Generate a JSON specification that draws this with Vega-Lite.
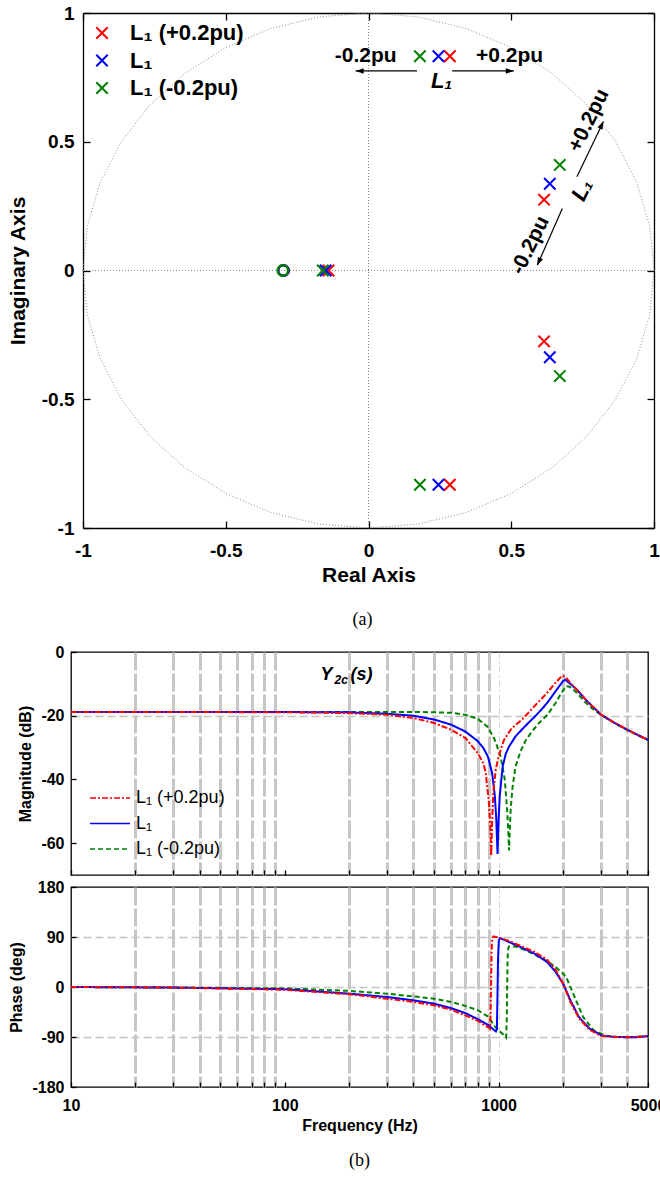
{
"$schema": "https://vega.github.io/schema/vega-lite/v6.json",
"padding": {"left": 7, "top": 4, "right": 0, "bottom": 0},
"background": "white",
"spacing": 14,
"resolve": {"scale": {"color": "independent", "strokeDash": "independent"}},
"config": {
  "font": "Liberation Sans",
  "view": {"stroke": "#000000", "strokeWidth": 1.3},
  "axis": {"domain": false, "grid": false, "tickColor": "#000000", "tickWidth": 1.3, "labelColor": "#000000", "titleColor": "#000000", "labelFont": "Liberation Sans", "titleFont": "Liberation Sans", "labelFontWeight": "bold", "titleFontWeight": "bold", "labelFlush": false, "labelOverlap": false},
  "title": {"font": "Liberation Serif", "fontWeight": "normal", "fontSize": 18, "color": "#000000"}
},
"datasets": {
  "circle": [
    {"k":0,"re":1,"im":0},{"k":1,"re":0.9848,"im":0.1736},{"k":2,"re":0.9397,"im":0.342},{"k":3,"re":0.866,"im":0.5},{"k":4,"re":0.766,"im":0.6428},{"k":5,"re":0.6428,"im":0.766},{"k":6,"re":0.5,"im":0.866},{"k":7,"re":0.342,"im":0.9397},{"k":8,"re":0.1736,"im":0.9848},{"k":9,"re":0,"im":1},
    {"k":10,"re":-0.1736,"im":0.9848},{"k":11,"re":-0.342,"im":0.9397},{"k":12,"re":-0.5,"im":0.866},{"k":13,"re":-0.6428,"im":0.766},{"k":14,"re":-0.766,"im":0.6428},{"k":15,"re":-0.866,"im":0.5},{"k":16,"re":-0.9397,"im":0.342},{"k":17,"re":-0.9848,"im":0.1736},{"k":18,"re":-1,"im":0},
    {"k":19,"re":-0.9848,"im":-0.1736},{"k":20,"re":-0.9397,"im":-0.342},{"k":21,"re":-0.866,"im":-0.5},{"k":22,"re":-0.766,"im":-0.6428},{"k":23,"re":-0.6428,"im":-0.766},{"k":24,"re":-0.5,"im":-0.866},{"k":25,"re":-0.342,"im":-0.9397},{"k":26,"re":-0.1736,"im":-0.9848},{"k":27,"re":0,"im":-1},
    {"k":28,"re":0.1736,"im":-0.9848},{"k":29,"re":0.342,"im":-0.9397},{"k":30,"re":0.5,"im":-0.866},{"k":31,"re":0.6428,"im":-0.766},{"k":32,"re":0.766,"im":-0.6428},{"k":33,"re":0.866,"im":-0.5},{"k":34,"re":0.9397,"im":-0.342},{"k":35,"re":0.9848,"im":-0.1736},{"k":36,"re":1,"im":0}
  ],
  "pz": [
    {"re":-0.14,"im":0,"s":"L₁ (+0.2pu)","type":"pole"},{"re":-0.15,"im":0,"s":"L₁","type":"pole"},{"re":-0.16,"im":0,"s":"L₁ (-0.2pu)","type":"pole"},
    {"re":0.285,"im":0.832,"s":"L₁ (+0.2pu)","type":"pole"},{"re":0.245,"im":0.832,"s":"L₁","type":"pole"},{"re":0.18,"im":0.832,"s":"L₁ (-0.2pu)","type":"pole"},
    {"re":0.285,"im":-0.832,"s":"L₁ (+0.2pu)","type":"pole"},{"re":0.245,"im":-0.832,"s":"L₁","type":"pole"},{"re":0.18,"im":-0.832,"s":"L₁ (-0.2pu)","type":"pole"},
    {"re":0.615,"im":0.275,"s":"L₁ (+0.2pu)","type":"pole"},{"re":0.635,"im":0.337,"s":"L₁","type":"pole"},{"re":0.67,"im":0.41,"s":"L₁ (-0.2pu)","type":"pole"},
    {"re":0.615,"im":-0.275,"s":"L₁ (+0.2pu)","type":"pole"},{"re":0.635,"im":-0.337,"s":"L₁","type":"pole"},{"re":0.67,"im":-0.41,"s":"L₁ (-0.2pu)","type":"pole"},
    {"re":-0.298,"im":0,"s":"L₁ (+0.2pu)","type":"zero"},{"re":-0.298,"im":0,"s":"L₁","type":"zero"},{"re":-0.3,"im":0,"s":"L₁ (-0.2pu)","type":"zero"}
  ],
  "ann": [
    {"re":-0.01,"im":0.832,"t":"-0.2pu","kind":"h"},
    {"re":0.494,"im":0.832,"t":"+0.2pu","kind":"h"},
    {"re":0.256,"im":0.734,"t":"L₁","kind":"hi"},
    {"re":0.772,"im":0.583,"t":"+0.2pu","kind":"r"},
    {"re":0.567,"im":0.098,"t":"-0.2pu","kind":"r"},
    {"re":0.748,"im":0.3125,"t":"L₁","kind":"ri"}
  ],
  "arr": [
    {"re":0.17,"im":0.775,"re2":-0.045,"im2":0.775,"dir":"l"},
    {"re":0.293,"im":0.775,"re2":0.509,"im2":0.775,"dir":"r"},
    {"re":0.73,"im":0.364,"re2":0.823,"im2":0.579,"dir":"u"},
    {"re":0.679,"im":0.241,"re2":0.591,"im2":0.02,"dir":"d"}
  ],
  "ttl": [{"f":147,"db":-7.2}],
  "mag": [
    {"f":10,"db":-18.8,"s":"L₁ (-0.2pu)"},{"f":100,"db":-18.8,"s":"L₁ (-0.2pu)"},{"f":200,"db":-18.8,"s":"L₁ (-0.2pu)"},{"f":300,"db":-18.8,"s":"L₁ (-0.2pu)"},{"f":400,"db":-18.85,"s":"L₁ (-0.2pu)"},{"f":500,"db":-18.9,"s":"L₁ (-0.2pu)"},{"f":600,"db":-19.1,"s":"L₁ (-0.2pu)"},{"f":700,"db":-19.7,"s":"L₁ (-0.2pu)"},{"f":800,"db":-21,"s":"L₁ (-0.2pu)"},{"f":890,"db":-23.5,"s":"L₁ (-0.2pu)"},{"f":955,"db":-27.2,"s":"L₁ (-0.2pu)"},{"f":1020,"db":-32.5,"s":"L₁ (-0.2pu)"},{"f":1069,"db":-40,"s":"L₁ (-0.2pu)"},{"f":1095,"db":-49,"s":"L₁ (-0.2pu)"},{"f":1110,"db":-56,"s":"L₁ (-0.2pu)"},{"f":1119,"db":-62.3,"s":"L₁ (-0.2pu)"},{"f":1128,"db":-56,"s":"L₁ (-0.2pu)"},{"f":1140,"db":-49,"s":"L₁ (-0.2pu)"},{"f":1160,"db":-43,"s":"L₁ (-0.2pu)"},{"f":1199,"db":-36,"s":"L₁ (-0.2pu)"},{"f":1270,"db":-31,"s":"L₁ (-0.2pu)"},{"f":1343,"db":-27.6,"s":"L₁ (-0.2pu)"},{"f":1450,"db":-24.5,"s":"L₁ (-0.2pu)"},{"f":1550,"db":-22.2,"s":"L₁ (-0.2pu)"},{"f":1687,"db":-19.8,"s":"L₁ (-0.2pu)"},{"f":1849,"db":-16,"s":"L₁ (-0.2pu)"},{"f":1950,"db":-13.3,"s":"L₁ (-0.2pu)"},{"f":2071,"db":-10.7,"s":"L₁ (-0.2pu)"},{"f":2150,"db":-10.9,"s":"L₁ (-0.2pu)"},{"f":2321,"db":-12.8,"s":"L₁ (-0.2pu)"},{"f":2500,"db":-15.3,"s":"L₁ (-0.2pu)"},{"f":2750,"db":-17.8,"s":"L₁ (-0.2pu)"},{"f":3022,"db":-19.8,"s":"L₁ (-0.2pu)"},{"f":3500,"db":-22.4,"s":"L₁ (-0.2pu)"},{"f":4000,"db":-24.5,"s":"L₁ (-0.2pu)"},{"f":4500,"db":-26.2,"s":"L₁ (-0.2pu)"},{"f":5000,"db":-27.6,"s":"L₁ (-0.2pu)"},
    {"f":10,"db":-18.8,"s":"L₁"},{"f":100,"db":-18.85,"s":"L₁"},{"f":200,"db":-18.95,"s":"L₁"},{"f":300,"db":-19.4,"s":"L₁"},{"f":400,"db":-20,"s":"L₁"},{"f":500,"db":-21.2,"s":"L₁"},{"f":600,"db":-22.8,"s":"L₁"},{"f":700,"db":-25,"s":"L₁"},{"f":800,"db":-28,"s":"L₁"},{"f":850,"db":-30.2,"s":"L₁"},{"f":891,"db":-32.8,"s":"L₁"},{"f":933,"db":-38,"s":"L₁"},{"f":960,"db":-45,"s":"L₁"},{"f":975,"db":-52,"s":"L₁"},{"f":989,"db":-63.4,"s":"L₁"},{"f":1000,"db":-53,"s":"L₁"},{"f":1013,"db":-45,"s":"L₁"},{"f":1045,"db":-36,"s":"L₁"},{"f":1080,"db":-32,"s":"L₁"},{"f":1119,"db":-29.7,"s":"L₁"},{"f":1200,"db":-26.5,"s":"L₁"},{"f":1283,"db":-24.4,"s":"L₁"},{"f":1400,"db":-21.8,"s":"L₁"},{"f":1472,"db":-20.4,"s":"L₁"},{"f":1600,"db":-17.8,"s":"L₁"},{"f":1687,"db":-16,"s":"L₁"},{"f":1800,"db":-13.4,"s":"L₁"},{"f":1900,"db":-11.2,"s":"L₁"},{"f":2000,"db":-9.2,"s":"L₁"},{"f":2050,"db":-8.7,"s":"L₁"},{"f":2150,"db":-9.8,"s":"L₁"},{"f":2321,"db":-11.8,"s":"L₁"},{"f":2600,"db":-15.5,"s":"L₁"},{"f":3022,"db":-19.7,"s":"L₁"},{"f":3500,"db":-22.3,"s":"L₁"},{"f":4000,"db":-24.4,"s":"L₁"},{"f":4500,"db":-26.1,"s":"L₁"},{"f":5000,"db":-27.6,"s":"L₁"},
    {"f":10,"db":-18.8,"s":"L₁ (+0.2pu)"},{"f":100,"db":-18.9,"s":"L₁ (+0.2pu)"},{"f":200,"db":-19.2,"s":"L₁ (+0.2pu)"},{"f":300,"db":-19.7,"s":"L₁ (+0.2pu)"},{"f":400,"db":-20.7,"s":"L₁ (+0.2pu)"},{"f":500,"db":-22.3,"s":"L₁ (+0.2pu)"},{"f":600,"db":-24.4,"s":"L₁ (+0.2pu)"},{"f":700,"db":-27,"s":"L₁ (+0.2pu)"},{"f":800,"db":-31.8,"s":"L₁ (+0.2pu)"},{"f":850,"db":-35,"s":"L₁ (+0.2pu)"},{"f":871,"db":-38,"s":"L₁ (+0.2pu)"},{"f":899,"db":-46.5,"s":"L₁ (+0.2pu)"},{"f":915,"db":-55,"s":"L₁ (+0.2pu)"},{"f":924,"db":-64,"s":"L₁ (+0.2pu)"},{"f":932,"db":-54,"s":"L₁ (+0.2pu)"},{"f":945,"db":-44,"s":"L₁ (+0.2pu)"},{"f":970,"db":-37,"s":"L₁ (+0.2pu)"},{"f":1000,"db":-32.8,"s":"L₁ (+0.2pu)"},{"f":1060,"db":-27.6,"s":"L₁ (+0.2pu)"},{"f":1150,"db":-24,"s":"L₁ (+0.2pu)"},{"f":1283,"db":-21.3,"s":"L₁ (+0.2pu)"},{"f":1472,"db":-17,"s":"L₁ (+0.2pu)"},{"f":1687,"db":-12.8,"s":"L₁ (+0.2pu)"},{"f":1850,"db":-9.6,"s":"L₁ (+0.2pu)"},{"f":1985,"db":-7.4,"s":"L₁ (+0.2pu)"},{"f":2050,"db":-7.8,"s":"L₁ (+0.2pu)"},{"f":2200,"db":-10.2,"s":"L₁ (+0.2pu)"},{"f":2321,"db":-11.8,"s":"L₁ (+0.2pu)"},{"f":2600,"db":-15.5,"s":"L₁ (+0.2pu)"},{"f":3022,"db":-19.7,"s":"L₁ (+0.2pu)"},{"f":3500,"db":-22.3,"s":"L₁ (+0.2pu)"},{"f":4000,"db":-24.4,"s":"L₁ (+0.2pu)"},{"f":4500,"db":-26.1,"s":"L₁ (+0.2pu)"},{"f":5000,"db":-27.6,"s":"L₁ (+0.2pu)"}
  ],
  "ph": [
    {"f":10,"deg":0,"s":"L₁ (-0.2pu)"},{"f":30,"deg":-0.8,"s":"L₁ (-0.2pu)"},{"f":100,"deg":-2.5,"s":"L₁ (-0.2pu)"},{"f":200,"deg":-7,"s":"L₁ (-0.2pu)"},{"f":300,"deg":-12,"s":"L₁ (-0.2pu)"},{"f":400,"deg":-17,"s":"L₁ (-0.2pu)"},{"f":500,"deg":-21,"s":"L₁ (-0.2pu)"},{"f":600,"deg":-27,"s":"L₁ (-0.2pu)"},{"f":700,"deg":-34,"s":"L₁ (-0.2pu)"},{"f":800,"deg":-42,"s":"L₁ (-0.2pu)"},{"f":900,"deg":-54,"s":"L₁ (-0.2pu)"},{"f":955,"deg":-70,"s":"L₁ (-0.2pu)"},{"f":1021,"deg":-81,"s":"L₁ (-0.2pu)"},{"f":1069,"deg":-88,"s":"L₁ (-0.2pu)"},{"f":1085,"deg":-91,"s":"L₁ (-0.2pu)"},{"f":1092,"deg":-60,"s":"L₁ (-0.2pu)"},{"f":1097,"deg":0,"s":"L₁ (-0.2pu)"},{"f":1103,"deg":55,"s":"L₁ (-0.2pu)"},{"f":1110,"deg":70,"s":"L₁ (-0.2pu)"},{"f":1119,"deg":73,"s":"L₁ (-0.2pu)"},{"f":1199,"deg":73,"s":"L₁ (-0.2pu)"},{"f":1343,"deg":66,"s":"L₁ (-0.2pu)"},{"f":1613,"deg":51,"s":"L₁ (-0.2pu)"},{"f":1849,"deg":36,"s":"L₁ (-0.2pu)"},{"f":2005,"deg":24,"s":"L₁ (-0.2pu)"},{"f":2071,"deg":18,"s":"L₁ (-0.2pu)"},{"f":2269,"deg":-18,"s":"L₁ (-0.2pu)"},{"f":2484,"deg":-54,"s":"L₁ (-0.2pu)"},{"f":2787,"deg":-78,"s":"L₁ (-0.2pu)"},{"f":3193,"deg":-88,"s":"L₁ (-0.2pu)"},{"f":3600,"deg":-90,"s":"L₁ (-0.2pu)"},{"f":4300,"deg":-90,"s":"L₁ (-0.2pu)"},{"f":5000,"deg":-88.5,"s":"L₁ (-0.2pu)"},
    {"f":10,"deg":0,"s":"L₁"},{"f":30,"deg":-1,"s":"L₁"},{"f":100,"deg":-4,"s":"L₁"},{"f":200,"deg":-12,"s":"L₁"},{"f":300,"deg":-18,"s":"L₁"},{"f":400,"deg":-24,"s":"L₁"},{"f":500,"deg":-30,"s":"L₁"},{"f":600,"deg":-38,"s":"L₁"},{"f":700,"deg":-47,"s":"L₁"},{"f":800,"deg":-58,"s":"L₁"},{"f":891,"deg":-68,"s":"L₁"},{"f":950,"deg":-77,"s":"L₁"},{"f":972,"deg":-80,"s":"L₁"},{"f":982,"deg":-76,"s":"L₁"},{"f":988,"deg":-20,"s":"L₁"},{"f":994,"deg":50,"s":"L₁"},{"f":1003,"deg":84,"s":"L₁"},{"f":1015,"deg":88,"s":"L₁"},{"f":1060,"deg":85,"s":"L₁"},{"f":1119,"deg":81,"s":"L₁"},{"f":1283,"deg":71,"s":"L₁"},{"f":1472,"deg":60,"s":"L₁"},{"f":1687,"deg":45,"s":"L₁"},{"f":1849,"deg":27,"s":"L₁"},{"f":2005,"deg":6,"s":"L₁"},{"f":2168,"deg":-24,"s":"L₁"},{"f":2376,"deg":-54,"s":"L₁"},{"f":2663,"deg":-75,"s":"L₁"},{"f":3022,"deg":-87,"s":"L₁"},{"f":3500,"deg":-90,"s":"L₁"},{"f":4300,"deg":-90.5,"s":"L₁"},{"f":5000,"deg":-88.5,"s":"L₁"},
    {"f":10,"deg":0,"s":"L₁ (+0.2pu)"},{"f":30,"deg":-1,"s":"L₁ (+0.2pu)"},{"f":100,"deg":-5,"s":"L₁ (+0.2pu)"},{"f":200,"deg":-13,"s":"L₁ (+0.2pu)"},{"f":300,"deg":-21,"s":"L₁ (+0.2pu)"},{"f":400,"deg":-27,"s":"L₁ (+0.2pu)"},{"f":500,"deg":-33,"s":"L₁ (+0.2pu)"},{"f":600,"deg":-41,"s":"L₁ (+0.2pu)"},{"f":700,"deg":-51,"s":"L₁ (+0.2pu)"},{"f":800,"deg":-61,"s":"L₁ (+0.2pu)"},{"f":871,"deg":-70,"s":"L₁ (+0.2pu)"},{"f":899,"deg":-73,"s":"L₁ (+0.2pu)"},{"f":912,"deg":-75,"s":"L₁ (+0.2pu)"},{"f":917,"deg":-55,"s":"L₁ (+0.2pu)"},{"f":922,"deg":0,"s":"L₁ (+0.2pu)"},{"f":928,"deg":70,"s":"L₁ (+0.2pu)"},{"f":935,"deg":88,"s":"L₁ (+0.2pu)"},{"f":945,"deg":91,"s":"L₁ (+0.2pu)"},{"f":1000,"deg":89,"s":"L₁ (+0.2pu)"},{"f":1119,"deg":83,"s":"L₁ (+0.2pu)"},{"f":1283,"deg":73,"s":"L₁ (+0.2pu)"},{"f":1472,"deg":63,"s":"L₁ (+0.2pu)"},{"f":1687,"deg":49,"s":"L₁ (+0.2pu)"},{"f":1849,"deg":31,"s":"L₁ (+0.2pu)"},{"f":2005,"deg":6,"s":"L₁ (+0.2pu)"},{"f":2168,"deg":-27,"s":"L₁ (+0.2pu)"},{"f":2376,"deg":-56,"s":"L₁ (+0.2pu)"},{"f":2663,"deg":-77,"s":"L₁ (+0.2pu)"},{"f":3022,"deg":-88,"s":"L₁ (+0.2pu)"},{"f":3500,"deg":-90,"s":"L₁ (+0.2pu)"},{"f":4300,"deg":-90.5,"s":"L₁ (+0.2pu)"},{"f":5000,"deg":-88.5,"s":"L₁ (+0.2pu)"}
  ]
},
"vconcat": [
  {
    "width": 583, "height": 515,
    "view": {"stroke": null},
    "title": {"text": "(a)", "orient": "bottom", "offset": 26},
    "resolve": {"axis": {"x": "independent", "y": "independent"}},
    "layer": [
      {
        "data": {"name": "circle"},
        "mark": {"type": "line", "color": "#8c8c8c", "strokeWidth": 1, "strokeDash": [1, 2]},
        "encoding": {
          "x": {"field": "re", "type": "quantitative", "scale": {"domain": [-1, 1], "range": [12, 583], "nice": false, "zero": false},
                "axis": {"orient": "bottom", "values": [-1, -0.5, 0, 0.5, 1], "labelExpr": "'' + datum.value", "title": "Real Axis", "labelFontSize": 19, "titleFontSize": 21, "tickSize": -7, "labelPadding": 20, "titlePadding": 4, "domain": true, "domainColor": "#000000", "domainWidth": 1.3}},
          "y": {"field": "im", "type": "quantitative", "scale": {"domain": [-1, 1], "nice": false, "zero": false},
                "axis": {"orient": "left", "offset": -12, "values": [-1, -0.5, 0, 0.5, 1], "labelExpr": "'' + datum.value", "title": "Imaginary Axis", "labelFontSize": 19, "titleFontSize": 21, "tickSize": -7, "labelPadding": 16, "titlePadding": 13, "domain": true, "domainColor": "#000000", "domainWidth": 1.3}},
          "order": {"field": "k", "type": "quantitative"}
        }
      },
      {
        "data": {"values": [{}]},
        "mark": {"type": "rule", "color": "#8c8c8c", "strokeWidth": 1, "strokeDash": [1, 2]},
        "encoding": {
          "x": {"datum": 0, "type": "quantitative", "axis": null},
          "y": {"datum": -1, "type": "quantitative", "axis": null},
          "y2": {"datum": 1}
        }
      },
      {
        "data": {"values": [{}]},
        "mark": {"type": "rule", "color": "#8c8c8c", "strokeWidth": 1, "strokeDash": [1, 2]},
        "encoding": {
          "y": {"datum": 0, "type": "quantitative", "axis": null},
          "x": {"datum": -1, "type": "quantitative", "axis": null},
          "x2": {"datum": 1}
        }
      },
      {
        "data": {"name": "pz"},
        "transform": [{"filter": "datum.type === 'pole'"}],
        "mark": {"type": "point", "shape": "M-1,-1L1,1M-1,1L1,-1", "filled": false, "size": 130, "strokeWidth": 2, "opacity": 1},
        "encoding": {
          "x": {"field": "re", "type": "quantitative", "axis": {"orient": "top", "values": [-1, -0.5, 0, 0.5, 1], "labels": false, "title": null, "tickSize": -7, "domain": true, "domainColor": "#000000", "domainWidth": 1.3}},
          "y": {"field": "im", "type": "quantitative", "axis": {"orient": "right", "values": [-1, -0.5, 0, 0.5, 1], "labels": false, "title": null, "tickSize": -7, "domain": true, "domainColor": "#000000", "domainWidth": 1.3}},
          "color": {"field": "s", "type": "nominal",
                    "scale": {"domain": ["L₁ (+0.2pu)", "L₁", "L₁ (-0.2pu)"], "range": ["#ff0000", "#0000ff", "#008000"]},
                    "legend": {"title": null, "orient": "top-left", "offset": 5, "padding": 4, "symbolOffset": 11, "symbolType": "M-1,-1L1,1M-1,1L1,-1", "symbolSize": 130, "symbolStrokeWidth": 2, "labelFontSize": 22, "labelFontWeight": "bold", "labelFont": "Liberation Sans", "labelColor": "#000000", "labelOffset": 17, "rowPadding": 5.5}}
        }
      },
      {
        "data": {"name": "pz"},
        "transform": [{"filter": "datum.type === 'zero'"}],
        "mark": {"type": "point", "shape": "circle", "filled": false, "size": 110, "strokeWidth": 2.5, "opacity": 1},
        "encoding": {
          "x": {"field": "re", "type": "quantitative", "axis": null},
          "y": {"field": "im", "type": "quantitative", "axis": null},
          "color": {"field": "s", "type": "nominal", "legend": null}
        }
      },
      {
        "data": {"name": "arr"},
        "mark": {"type": "rule", "color": "#000000", "strokeWidth": 1.2},
        "encoding": {
          "x": {"field": "re", "type": "quantitative", "axis": null},
          "y": {"field": "im", "type": "quantitative", "axis": null},
          "x2": {"field": "re2"},
          "y2": {"field": "im2"}
        }
      },
      {
        "data": {"name": "arr"},
        "transform": [{"filter": "datum.dir === 'l'"}],
        "mark": {"type": "point", "shape": "M0,0L-0.35,1L0.35,1Z", "filled": true, "size": 256, "color": "#000000", "opacity": 1, "angle": 270},
        "encoding": {"x": {"field": "re2", "type": "quantitative", "axis": null}, "y": {"field": "im2", "type": "quantitative", "axis": null}}
      },
      {
        "data": {"name": "arr"},
        "transform": [{"filter": "datum.dir === 'r'"}],
        "mark": {"type": "point", "shape": "M0,0L-0.35,1L0.35,1Z", "filled": true, "size": 256, "color": "#000000", "opacity": 1, "angle": 90},
        "encoding": {"x": {"field": "re2", "type": "quantitative", "axis": null}, "y": {"field": "im2", "type": "quantitative", "axis": null}}
      },
      {
        "data": {"name": "arr"},
        "transform": [{"filter": "datum.dir === 'u'"}],
        "mark": {"type": "point", "shape": "M0,0L-0.35,1L0.35,1Z", "filled": true, "size": 256, "color": "#000000", "opacity": 1, "angle": 26},
        "encoding": {"x": {"field": "re2", "type": "quantitative", "axis": null}, "y": {"field": "im2", "type": "quantitative", "axis": null}}
      },
      {
        "data": {"name": "arr"},
        "transform": [{"filter": "datum.dir === 'd'"}],
        "mark": {"type": "point", "shape": "M0,0L-0.35,1L0.35,1Z", "filled": true, "size": 256, "color": "#000000", "opacity": 1, "angle": 204},
        "encoding": {"x": {"field": "re2", "type": "quantitative", "axis": null}, "y": {"field": "im2", "type": "quantitative", "axis": null}}
      },
      {
        "data": {"name": "ann"},
        "transform": [{"filter": "datum.kind === 'h'"}],
        "mark": {"type": "text", "font": "Liberation Sans", "fontWeight": "bold", "fontSize": 21, "align": "center", "baseline": "middle", "color": "#000000"},
        "encoding": {"x": {"field": "re", "type": "quantitative", "axis": null}, "y": {"field": "im", "type": "quantitative", "axis": null}, "text": {"field": "t"}}
      },
      {
        "data": {"name": "ann"},
        "transform": [{"filter": "datum.kind === 'hi'"}],
        "mark": {"type": "text", "font": "Liberation Sans", "fontWeight": "bold", "fontStyle": "italic", "fontSize": 22, "align": "center", "baseline": "middle", "color": "#000000"},
        "encoding": {"x": {"field": "re", "type": "quantitative", "axis": null}, "y": {"field": "im", "type": "quantitative", "axis": null}, "text": {"field": "t"}}
      },
      {
        "data": {"name": "ann"},
        "transform": [{"filter": "datum.kind === 'r'"}],
        "mark": {"type": "text", "font": "Liberation Sans", "fontWeight": "bold", "fontSize": 21, "align": "center", "baseline": "middle", "angle": -64, "color": "#000000"},
        "encoding": {"x": {"field": "re", "type": "quantitative", "axis": null}, "y": {"field": "im", "type": "quantitative", "axis": null}, "text": {"field": "t"}}
      },
      {
        "data": {"name": "ann"},
        "transform": [{"filter": "datum.kind === 'ri'"}],
        "mark": {"type": "text", "font": "Liberation Sans", "fontWeight": "bold", "fontStyle": "italic", "fontSize": 22, "align": "center", "baseline": "middle", "angle": -64, "color": "#000000"},
        "encoding": {"x": {"field": "re", "type": "quantitative", "axis": null}, "y": {"field": "im", "type": "quantitative", "axis": null}, "text": {"field": "t"}}
      }
    ]
  },
  {
    "bounds": "flush",
    "spacing": 12,
    "resolve": {"scale": {"color": "independent", "strokeDash": "independent"}},
    "vconcat": [
      {
        "width": 577, "height": 223,
        "layer": [
          {
            "data": {"name": "mag"},
            "mark": {"type": "line", "strokeWidth": 2, "clip": true},
            "encoding": {
              "x": {"field": "f", "type": "quantitative", "scale": {"type": "log", "domain": [10, 5000], "nice": false},
                    "axis": {"values": [10,20,30,40,50,60,70,80,90,100,200,300,400,500,600,700,800,900,1000,2000,3000,4000,5000], "labels": false, "title": null, "tickSize": -5, "grid": true,
                             "gridColor": {"condition": {"test": "datum.value === 1000", "value": "#d4d4d4"}, "value": "#c6c6c6"},
                             "gridWidth": {"condition": {"test": "datum.value === 1000", "value": 1}, "value": 3},
                             "gridDash": {"condition": {"test": "datum.value === 1000", "value": [6, 3, 2, 3]}, "value": [18, 3]},
                             "gridOpacity": {"condition": {"test": "datum.value === 10 || datum.value === 100 || datum.value === 5000", "value": 0}, "value": 1}}},
              "y": {"field": "db", "type": "quantitative", "scale": {"domain": [-70, 0], "nice": false, "zero": false},
                    "axis": {"values": [0, -20, -40, -60], "labelExpr": "'' + datum.value", "title": "Magnitude (dB)", "labelFontSize": 16, "titleFontSize": 16, "tickSize": -5, "labelPadding": 12, "titlePadding": 7, "grid": true, "gridColor": "#c4c4c4", "gridDash": [8, 4], "gridWidth": 1.5,
                             "gridOpacity": {"condition": {"test": "datum.value === -20", "value": 1}, "value": 0}}},
              "color": {"field": "s", "type": "nominal",
                        "scale": {"domain": ["L₁ (+0.2pu)", "L₁", "L₁ (-0.2pu)"], "range": ["#ff0000", "#0000ff", "#008000"]},
                        "legend": {"title": null, "orient": "bottom-left", "offset": 17, "padding": 0, "symbolType": "M-2,0L2,0", "symbolSize": 400, "symbolOffset": 11, "symbolStrokeWidth": 1.6, "labelFontSize": 18, "labelFont": "Liberation Sans", "labelFontWeight": "normal", "labelColor": "#000000", "labelOffset": 15, "rowPadding": 5.5}},
              "strokeDash": {"field": "s", "type": "nominal",
                        "scale": {"domain": ["L₁ (+0.2pu)", "L₁", "L₁ (-0.2pu)"], "range": [[6, 2, 2, 2], [1, 0], [5, 3]]},
                        "legend": {"title": null, "orient": "bottom-left", "offset": 17, "padding": 0, "symbolType": "M-2,0L2,0", "symbolSize": 400, "symbolOffset": 11, "symbolStrokeWidth": 1.6, "labelFontSize": 18, "labelFont": "Liberation Sans", "labelFontWeight": "normal", "labelColor": "#000000", "labelOffset": 15, "rowPadding": 5.5}}
            }
          },
          {
            "data": {"name": "ttl"},
            "mark": {"type": "text", "text": "Y", "font": "Liberation Sans", "fontWeight": "bold", "fontStyle": "italic", "fontSize": 18, "align": "left", "baseline": "middle", "color": "#000000"},
            "encoding": {"x": {"field": "f", "type": "quantitative"}, "y": {"field": "db", "type": "quantitative"}}
          },
          {
            "data": {"name": "ttl"},
            "mark": {"type": "text", "text": "2c", "font": "Liberation Sans", "fontWeight": "bold", "fontStyle": "italic", "fontSize": 12, "align": "left", "baseline": "middle", "dx": 14, "dy": 5, "color": "#000000"},
            "encoding": {"x": {"field": "f", "type": "quantitative"}, "y": {"field": "db", "type": "quantitative"}}
          },
          {
            "data": {"name": "ttl"},
            "mark": {"type": "text", "text": "(s)", "font": "Liberation Sans", "fontWeight": "bold", "fontStyle": "italic", "fontSize": 18, "align": "left", "baseline": "middle", "dx": 30, "color": "#000000"},
            "encoding": {"x": {"field": "f", "type": "quantitative"}, "y": {"field": "db", "type": "quantitative"}}
          }
        ]
      },
      {
        "width": 577, "height": 200,
        "title": {"text": "(b)", "orient": "bottom", "offset": 19},
        "data": {"name": "ph"},
        "mark": {"type": "line", "strokeWidth": 2, "clip": true},
        "encoding": {
          "x": {"field": "f", "type": "quantitative", "scale": {"type": "log", "domain": [10, 5000], "nice": false},
                "axis": {"values": [10,20,30,40,50,60,70,80,90,100,200,300,400,500,600,700,800,900,1000,2000,3000,4000,5000],
                         "labelExpr": "indexof([10, 100, 1000, 5000], datum.value) >= 0 ? '' + datum.value : ''",
                         "title": "Frequency  (Hz)", "labelFontSize": 16, "titleFontSize": 16, "tickSize": -5, "labelPadding": 15, "titlePadding": 4, "grid": true,
                         "gridColor": {"condition": {"test": "datum.value === 1000", "value": "#d4d4d4"}, "value": "#c6c6c6"},
                         "gridWidth": {"condition": {"test": "datum.value === 1000", "value": 1}, "value": 3},
                         "gridDash": {"condition": {"test": "datum.value === 1000", "value": [6, 3, 2, 3]}, "value": [18, 3]},
                         "gridOpacity": {"condition": {"test": "datum.value === 10 || datum.value === 100 || datum.value === 5000", "value": 0}, "value": 1}}},
          "y": {"field": "deg", "type": "quantitative", "scale": {"domain": [-180, 180], "nice": false, "zero": false},
                "axis": {"values": [180, 90, 0, -90, -180], "labelExpr": "'' + datum.value", "title": "Phase (deg)", "labelFontSize": 16, "titleFontSize": 16, "tickSize": -5, "labelPadding": 12, "titlePadding": 7, "grid": true, "gridColor": "#c4c4c4", "gridDash": [8, 4], "gridWidth": 1.5,
                         "gridOpacity": {"condition": {"test": "datum.value === 90 || datum.value === 0 || datum.value === -90", "value": 1}, "value": 0}}},
          "color": {"field": "s", "type": "nominal", "scale": {"domain": ["L₁ (+0.2pu)", "L₁", "L₁ (-0.2pu)"], "range": ["#ff0000", "#0000ff", "#008000"]}, "legend": null},
          "strokeDash": {"field": "s", "type": "nominal", "scale": {"domain": ["L₁ (+0.2pu)", "L₁", "L₁ (-0.2pu)"], "range": [[6, 2, 2, 2], [1, 0], [5, 3]]}, "legend": null}
        }
      }
    ]
  }
]
}
